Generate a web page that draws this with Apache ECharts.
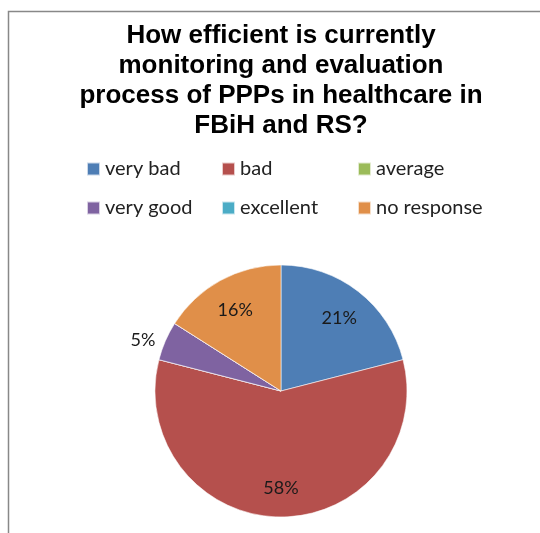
<!DOCTYPE html>
<html>
<head>
<meta charset="utf-8">
<script src="https://cdn.jsdelivr.net/npm/echarts@6/dist/echarts.min.js"></script>
<style>
	html, body { margin: 0; padding: 0; background: #fff; }
	#pieGraph { width: 540px; height: 533px; }
</style>
</head>
<body>
<div id="pieGraph"></div>
<script>
	// data
	var categories = ['very bad', 'bad', 'average', 'very good', 'excellent', 'no response'];
	var shares = [21, 58, 0, 5, 0, 16];
	var titleText = 'How efficient is currently\nmonitoring and evaluation\nprocess of PPPs in healthcare in\nFBiH and RS?';

	var palette = ['#4E7EB5', '#B5504D', '#9BBB59', '#7F63A1', '#4BACC6', '#E08F49'];

	/**
	 * build the pie items
	 */
	function buildItems(labelFilter, labelOffset) {
		var items = [];
		for (var i = 0; i < categories.length; i++) {
			var item = { name: categories[i], value: shares[i] };
			item.label = { show: shares[i] > 0 && labelFilter(shares[i]) };
			if (labelOffset) {
				item.label.offset = labelOffset;
			}
			items.push(item);
		}
		return items;
	}

	/**
	 * legend: 3 columns, 2 rows, one legend box per entry
	 */
	function buildLegends() {
		var colX = [86, 221, 357];
		var rowY = [159, 198];
		var legends = [];
		for (var i = 0; i < categories.length; i++) {
			legends.push({
				data: [categories[i]],
				left: colX[i % 3],
				top: rowY[Math.floor(i / 3)],
				padding: 0,
				itemWidth: 13,
				itemHeight: 13,
				icon: 'rect',
				textStyle: {
					fontFamily: 'Lato',
					fontSize: 20,
					color: '#222'
				}
			});
		}
		return legends;
	}

	/**
	 * draw
	 */
	function drawGraph() {
		var dom = document.getElementById('pieGraph');
		var myChart = echarts.init(dom, null, { renderer: 'canvas' });
		var R = 126;
		var center = [281, 391];
		var labelStyle = {
			position: 'inside',
			formatter: '{c}%',
			fontFamily: 'Lato',
			fontSize: 18,
			color: '#1a1a1a'
		};
		var option = {
			animation: false,
			color: palette,
			title: {
				text: titleText,
				left: 281,
				top: 21,
				padding: 0,
				textAlign: 'center',
				textStyle: {
					fontFamily: 'Liberation Sans',
					fontWeight: 'bold',
					fontSize: 26,
					lineHeight: 30,
					color: '#000'
				}
			},
			legend: buildLegends(),
			graphic: [{
				type: 'rect',
				shape: { x: 8.5, y: 11.5, width: 700, height: 700 },
				style: { fill: 'none', stroke: '#888', lineWidth: 1.5 },
				silent: true
			}],
			series: [
				{
					name: 'answers',
					type: 'pie',
					center: center,
					radius: [0, R],
					startAngle: 90,
					clockwise: true,
					label: { show: false },
					labelLine: { show: false },
					itemStyle: { borderColor: 'rgba(255,255,255,0.7)', borderWidth: 0.8 },
					emphasis: { disabled: true },
					data: buildItems(function () { return false; })
				},
				{
					// inner labels
					name: 'innerLabels',
					type: 'pie',
					silent: true,
					center: center,
					radius: [R * 0.46, R],
					startAngle: 90,
					clockwise: true,
					label: labelStyle,
					labelLine: { show: false },
					itemStyle: { color: 'transparent' },
					emphasis: { disabled: true },
					data: buildItems(function (v) { return v >= 10; }, [0, 2])
				},
				{
					// small slice label outside
					name: 'outerLabels',
					type: 'pie',
					silent: true,
					center: center,
					radius: [R, R * 1.34],
					startAngle: 90,
					clockwise: true,
					label: labelStyle,
					labelLine: { show: false },
					itemStyle: { color: 'transparent' },
					emphasis: { disabled: true },
					data: buildItems(function (v) { return v < 10; }, [0, 9])
				}
			]
		};
		if (option && typeof option === 'object') {
			myChart.setOption(option, true);
		}
	}

	drawGraph();
</script>
</body>
</html>
